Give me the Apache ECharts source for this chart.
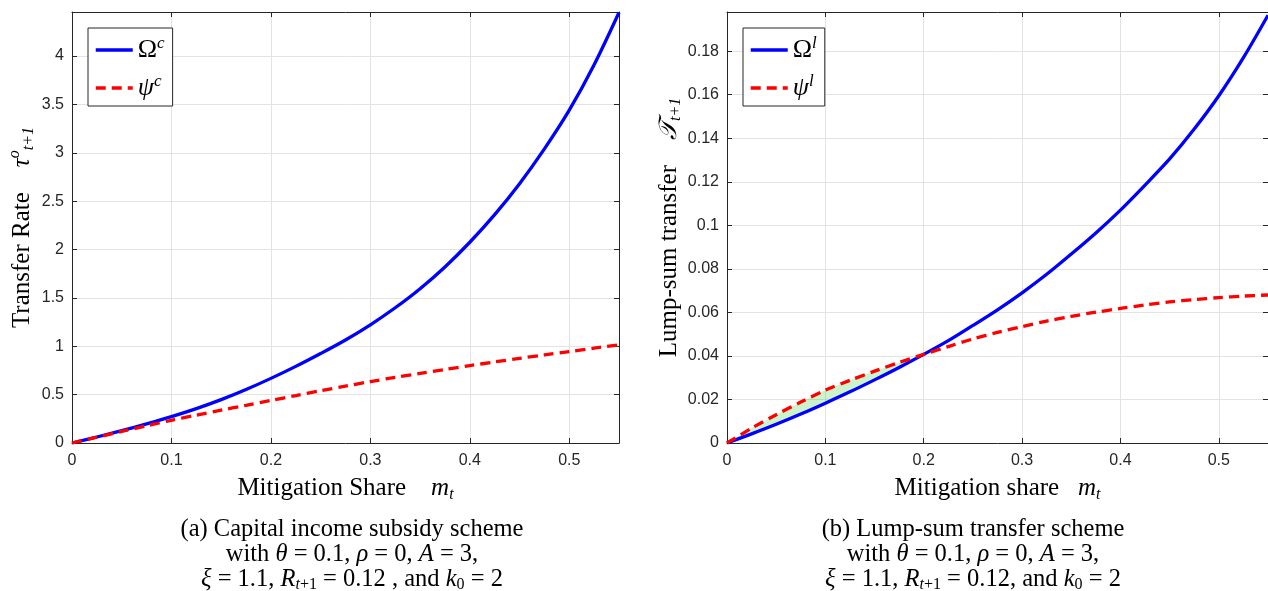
<!DOCTYPE html>
<html>
<head>
<meta charset="utf-8">
<script src="https://cdn.jsdelivr.net/npm/echarts@6/dist/echarts.min.js"></script>
<style>
html,body{margin:0;padding:0;background:#fff;}
#chart{width:1268px;height:591px;}
</style>
</head>
<body>
<div id="chart"></div>
<script>
// ---- data ----
const mShare = [0, 0.025, 0.05, 0.075, 0.10, 0.125, 0.15, 0.175, 0.20, 0.225, 0.25, 0.275,
                0.30, 0.325, 0.35, 0.375, 0.40, 0.425, 0.45, 0.475, 0.50, 0.525, 0.55];
// (a) capital income subsidy scheme
const omegaC = [0, 0.062, 0.127, 0.197, 0.272, 0.355, 0.448, 0.553, 0.668, 0.792, 0.925, 1.065,
                1.222, 1.398, 1.595, 1.82, 2.075, 2.36, 2.68, 3.04, 3.44, 3.91, 4.45];
const psiC   = [0, 0.06, 0.12, 0.178, 0.235, 0.288, 0.34, 0.39, 0.44, 0.49, 0.54, 0.588,
                0.635, 0.678, 0.72, 0.76, 0.80, 0.838, 0.875, 0.91, 0.945, 0.98, 1.015];
// (b) lump-sum transfer scheme
const omegaL = [0, 0.0042, 0.0086, 0.0133, 0.0183, 0.0235, 0.029, 0.0347, 0.0407, 0.047, 0.054, 0.0612,
                0.069, 0.0775, 0.0868, 0.0965, 0.107, 0.1185, 0.1305, 0.1442, 0.1595, 0.177, 0.1965];
const psiL   = [0, 0.0068, 0.013, 0.0188, 0.0243, 0.0288, 0.033, 0.037, 0.0407, 0.0443, 0.0478, 0.0508,
                0.0535, 0.056, 0.0582, 0.0601, 0.0618, 0.0634, 0.0648, 0.0659, 0.0668, 0.0675, 0.068];

const xMin = 0, xMax = 0.55, xStep = 0.1;
const yMaxC = 4.455, yStepC = 0.5;
const yMaxL = 0.198, yStepL = 0.02;

// ---- helpers ----
const pairs = (xs, ys) => xs.map((x, i) => [x, ys[i]]);
// region where psi^l lies on or above Omega^l (shaded band)
const fillIdx = [];
for (let i = 0; i < mShare.length; i++) {
  if (psiL[i] >= omegaL[i]) fillIdx.push(i); else break;
}
const fillData = fillIdx.map(i => [mShare[i], psiL[i], omegaL[i]]);

const SERIF = 'Liberation Serif';
const SANS = 'Liberation Sans';
const AX = '#262626';
const GRIDC = '#e3e3e3';

const rich = {
  r:   {fontFamily: SERIF, fontSize: 25, color: '#000', lineHeight: 30},
  it:  {fontFamily: SERIF, fontSize: 25, fontStyle: 'italic', color: '#000', lineHeight: 30},
  sup: {fontFamily: SERIF, fontSize: 16, fontStyle: 'italic', color: '#000', verticalAlign: 'top'},
  sub: {fontFamily: SERIF, fontSize: 16, fontStyle: 'italic', color: '#000', verticalAlign: 'bottom'}
};

function xAxisMain(grid, name) {
  return {
    type: 'value', gridIndex: grid, min: xMin, max: xMax, interval: xStep,
    name: name, nameLocation: 'middle', nameGap: 30,
    nameTextStyle: {rich: rich},
    axisLine: {show: true, onZero: false, lineStyle: {color: AX, width: 1}},
    axisTick: {show: true, inside: true, length: 5, lineStyle: {color: AX}},
    axisLabel: {color: AX, fontFamily: SANS, fontSize: 16, margin: 10, showMaxLabel: false},
    splitLine: {show: true, lineStyle: {color: GRIDC, width: 1}}
  };
}
function xAxisTop(grid) {
  return {
    type: 'value', gridIndex: grid, position: 'top', min: xMin, max: xMax, interval: xStep,
    axisLine: {show: true, onZero: false, lineStyle: {color: AX, width: 1}},
    axisTick: {show: true, inside: true, length: 5, lineStyle: {color: AX}},
    axisLabel: {show: false}, splitLine: {show: false}
  };
}
function yAxisMain(grid, max, step, name, gap) {
  return {
    type: 'value', gridIndex: grid, min: 0, max: max, interval: step,
    name: name, nameLocation: 'middle', nameGap: gap,
    nameTextStyle: {rich: rich},
    axisLine: {show: true, onZero: false, lineStyle: {color: AX, width: 1}},
    axisTick: {show: true, inside: true, length: 5, lineStyle: {color: AX}},
    axisLabel: {color: AX, fontFamily: SANS, fontSize: 16, margin: 8, showMaxLabel: false},
    splitLine: {show: true, lineStyle: {color: GRIDC, width: 1}}
  };
}
function yAxisRight(grid, max, step) {
  return {
    type: 'value', gridIndex: grid, position: 'right', min: 0, max: max, interval: step,
    axisLine: {show: true, onZero: false, lineStyle: {color: AX, width: 1}},
    axisTick: {show: true, inside: true, length: 5, lineStyle: {color: AX}},
    axisLabel: {show: false}, splitLine: {show: false}
  };
}

const blueLine = {color: '#0000ff', width: 3.3};
const redLine = {color: '#ff0000', width: 3.3, type: [10, 6]};

const legendRich = {
  g:  {fontFamily: SERIF, fontSize: 26, color: '#000', lineHeight: 30},
  gi: {fontFamily: SERIF, fontSize: 26, fontStyle: 'italic', color: '#000', lineHeight: 30},
  s:  {fontFamily: SERIF, fontSize: 17, fontStyle: 'italic', color: '#000', verticalAlign: 'top'}
};
const legendNames = {
  'Ωc': '{g|Ω}{s|c}', 'ψc': '{gi|ψ}{s|c}',
  'Ωl': '{g|Ω}{s|l}', 'ψl': '{gi|ψ}{s|l}'
};
function legendAt(left, names) {
  return {
    data: names, left: left, top: 28, orient: 'vertical',
    itemWidth: 37, itemHeight: 14, itemGap: 10,
    padding: [7, 8, 5, 6],
    borderColor: AX, borderWidth: 1, backgroundColor: '#fff',
    itemStyle: {opacity: 0},
    lineStyle: {width: 3.5, type: 'inherit'},
    formatter: n => legendNames[n],
    textStyle: {rich: legendRich},
    selectedMode: false
  };
}

const captionRich = {
  r:   {fontFamily: SERIF, fontSize: 24.5, color: '#000', lineHeight: 25},
  it:  {fontFamily: SERIF, fontSize: 24.5, fontStyle: 'italic', color: '#000', lineHeight: 25},
  sub: {fontFamily: SERIF, fontSize: 16, fontStyle: 'italic', color: '#000', verticalAlign: 'bottom', lineHeight: 25},
  subr:{fontFamily: SERIF, fontSize: 16, color: '#000', verticalAlign: 'bottom', lineHeight: 25}
};
const captionA = [
  '{r|(a) Capital income subsidy scheme}',
  '{r|with }{it|θ}{r| = 0.1, }{it|ρ}{r| = 0, }{it|A}{r| = 3,}',
  '{it|ξ}{r| = 1.1, }{it|R}{sub|t}{subr|+1}{r| = 0.12 , and }{it|k}{subr|0}{r| = 2}'
].join('\n');
const captionB = [
  '{r|(b) Lump-sum transfer scheme}',
  '{r|with }{it|θ}{r| = 0.1, }{it|ρ}{r| = 0, }{it|A}{r| = 3,}',
  '{it|ξ}{r| = 1.1, }{it|R}{sub|t}{subr|+1}{r| = 0.12, and }{it|k}{subr|0}{r| = 2}'
].join('\n');

const option = {
  backgroundColor: '#fff',
  animation: false,
  grid: [
    {left: 72, top: 12, width: 547, height: 431, containLabel: false},
    {left: 727, top: 12, width: 547, height: 431, containLabel: false}
  ],
  xAxis: [
    xAxisMain(0, '{r|Mitigation Share}{r|    }{it|m}{sub|t}'),
    xAxisMain(1, '{r|Mitigation share}{r|   }{it|m}{sub|t}'),
    xAxisTop(0), xAxisTop(1)
  ],
  yAxis: [
    yAxisMain(0, yMaxC, yStepC, '{r|Transfer Rate}{r|    }{it|τ}{sup|o}{sub|t+1}', 35),
    yAxisMain(1, yMaxL, yStepL, '{r|Lump-sum transfer}{r|    }{it|𝒯}{sub|t+1}', 43),
    yAxisRight(0, yMaxC, yStepC), yAxisRight(1, yMaxL, yStepL)
  ],
  legend: [legendAt(88, ['Ωc', 'ψc']), legendAt(743, ['Ωl', 'ψl'])],
  graphic: [
    {type: 'text', x: 352, y: 517.5, silent: true,
     style: {text: captionA, rich: captionRich, align: 'center', verticalAlign: 'top'}},
    {type: 'text', x: 973, y: 517.5, silent: true,
     style: {text: captionB, rich: captionRich, align: 'center', verticalAlign: 'top'}}
  ],
  series: [
    {name: 'Ωc', type: 'line', xAxisIndex: 0, yAxisIndex: 0, data: pairs(mShare, omegaC),
     smooth: 0.3, symbol: 'none', showSymbol: false, lineStyle: blueLine, itemStyle: {color: '#0000ff'}, z: 3},
    {name: 'ψc', type: 'line', xAxisIndex: 0, yAxisIndex: 0, data: pairs(mShare, psiC),
     smooth: 0.3, symbol: 'none', showSymbol: false, lineStyle: redLine, itemStyle: {color: '#ff0000'}, z: 4},
    {name: 'gap', type: 'custom', xAxisIndex: 1, yAxisIndex: 1, data: fillData,
     encode: {x: 0, y: [1, 2]}, silent: true, z: 1, clip: true,
     renderItem: function (params, api) {
       if (params.dataIndex !== 0) return null;
       const upper = fillData.map(d => api.coord([d[0], d[1]]));
       const lower = fillData.slice().reverse().map(d => api.coord([d[0], d[2]]));
       return {type: 'polygon', shape: {points: upper.concat(lower)},
               style: {fill: 'rgba(0,200,0,0.2)', stroke: null}};
     }},
    {name: 'Ωl', type: 'line', xAxisIndex: 1, yAxisIndex: 1, data: pairs(mShare, omegaL),
     smooth: 0.3, symbol: 'none', showSymbol: false, lineStyle: blueLine, itemStyle: {color: '#0000ff'}, z: 3},
    {name: 'ψl', type: 'line', xAxisIndex: 1, yAxisIndex: 1, data: pairs(mShare, psiL),
     smooth: 0.3, symbol: 'none', showSymbol: false, lineStyle: redLine, itemStyle: {color: '#ff0000'}, z: 4}
  ]
};

const chart = echarts.init(document.getElementById('chart'), null, {renderer: 'canvas'});
chart.setOption(option);
</script>
</body>
</html>
